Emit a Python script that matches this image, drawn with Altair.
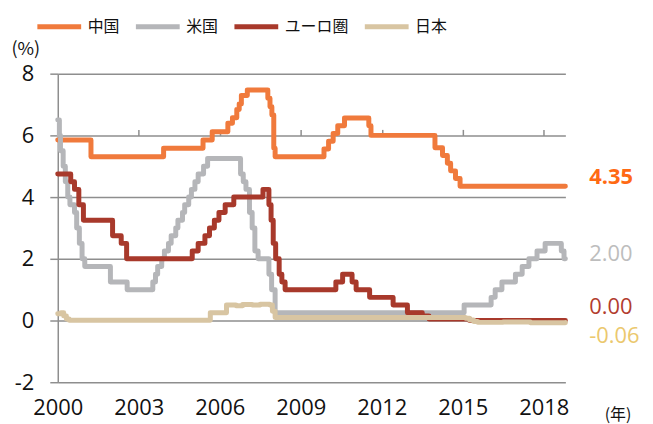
import altair as alt
import pandas as pd

# ---------------- data ----------------
series_names = ["中国", "米国", "ユーロ圏", "日本"]

china_t = [2000.0, 2001.23, 2003.92, 2005.38, 2005.72, 2006.3, 2006.47, 2006.63, 2006.72,
           2006.8, 2007.02, 2007.78, 2007.86, 2007.93, 2008.0, 2008.05, 2009.86, 2010.03,
           2010.2, 2010.37, 2010.62, 2011.52, 2011.6, 2013.97, 2014.25, 2014.43, 2014.55,
           2014.73, 2014.9, 2018.8]
china_v = [5.85, 5.31, 5.58, 5.85, 6.12, 6.39, 6.57, 6.84, 7.02,
           7.29, 7.47, 7.20, 6.93, 6.66, 5.58, 5.31, 5.56, 5.81,
           6.06, 6.31, 6.56, 6.31, 6.00, 5.60, 5.35, 5.10, 4.85,
           4.60, 4.35, 4.35]

us_t = [2000.0, 2000.06, 2000.1, 2000.2, 2000.28, 2000.37, 2000.45, 2000.62, 2000.7,
        2000.8, 2000.9, 2001.0, 2001.95, 2002.57, 2003.52, 2003.62, 2003.7, 2003.85,
        2003.95, 2004.1, 2004.2, 2004.37, 2004.45, 2004.62, 2004.7, 2004.85, 2004.95,
        2005.08, 2005.2, 2005.4, 2005.55, 2006.77, 2006.87, 2006.97, 2007.1, 2007.2,
        2007.3, 2007.42, 2007.82, 2007.92, 2008.05, 2015.05, 2016.05, 2016.2, 2016.45,
        2016.95, 2017.2, 2017.45, 2017.75, 2018.05, 2018.65, 2018.75, 2018.8]
us_v = [6.5, 6.0, 5.5, 5.0, 4.5, 4.0, 3.75, 3.5, 3.0,
        2.5, 2.0, 1.75, 1.25, 1.0, 1.25, 1.5, 1.75, 2.0,
        2.25, 2.5, 2.75, 3.0, 3.25, 3.5, 3.75, 4.0, 4.25,
        4.5, 4.75, 5.0, 5.25, 4.75, 4.5, 4.25, 3.5, 3.0,
        2.25, 2.0, 1.5, 1.0, 0.25, 0.5, 0.75, 1.0, 1.25,
        1.5, 1.75, 2.0, 2.25, 2.5, 2.25, 2.0, 2.0]

eu_t = [2000.0, 2000.48, 2000.62, 2000.78, 2000.95, 2002.03, 2002.35, 2002.55, 2004.98,
        2005.2, 2005.45, 2005.62, 2005.8, 2005.97, 2006.2, 2006.52, 2007.6, 2007.82,
        2007.9, 2007.98, 2008.07, 2008.2, 2008.3, 2008.42, 2010.3, 2010.55, 2010.9,
        2011.05, 2011.55, 2012.42, 2012.95, 2013.5, 2013.75, 2015.25, 2018.8]
eu_v = [4.75, 4.5, 4.25, 3.75, 3.25, 2.75, 2.5, 2.0, 2.25,
        2.5, 2.75, 3.0, 3.25, 3.5, 3.75, 4.0, 4.25, 3.75,
        3.25, 2.5, 2.0, 1.5, 1.25, 1.0, 1.25, 1.5, 1.25,
        1.0, 0.75, 0.5, 0.25, 0.15, 0.05, 0.0, 0.0]

jp_t = [2000.0, 2000.12, 2000.22, 2000.32, 2000.42, 2005.55, 2005.65, 2006.25, 2006.6,
        2006.85, 2007.2, 2007.5, 2007.85, 2007.95, 2008.05, 2015.1, 2015.25, 2015.4,
        2015.55, 2016.5, 2017.5, 2018.8]
jp_v = [0.22, 0.25, 0.15, 0.05, 0.01, 0.01, 0.25, 0.5, 0.48,
        0.52, 0.5, 0.53, 0.5, 0.3, 0.1, 0.07, 0.02, -0.03,
        -0.06, -0.05, -0.07, -0.06]

end_labels = ["4.35", "2.00", "0.00", "-0.06"]
end_values = [4.35, 2.00, 0.00, -0.06]
x_ticks = [2000, 2003, 2006, 2009, 2012, 2015, 2018]
y_ticks = [-2, 0, 2, 4, 6, 8]

# ---------------- styling ----------------
line_colors = ["#F07A3C", "#B5B6B9", "#A8392B", "#D8C5A2"]
label_colors = ["#FF6A13", "#BDBDBD", "#B23C2E", "#EBC86E"]
label_weights = ["bold", "normal", "normal", "normal"]
label_dy = [-9, -5, -14, 14]
grid_gray = "#8E8E8E"
NUM_FONT = "Open Sans"
JP_FONT = "Noto Sans CJK JP"

x_scale = alt.Scale(domain=[2000, 2018.8], nice=False, zero=False)
y_scale = alt.Scale(domain=[-2, 8], nice=False)
color_scale = alt.Scale(domain=series_names, range=line_colors)

y_axis = alt.Axis(values=y_ticks, grid=True, gridColor=grid_gray, gridWidth=1.5,
                  domainColor=grid_gray, domainWidth=1.5, tickColor=grid_gray, tickWidth=1.5,
                  tickSize=8, labelPadding=16, labelFont=NUM_FONT, labelFontSize=22,
                  labelExpr="toString(datum.value)",
                  labelColor="#111111", title="(%)", titleAngle=0, titleAlign="left",
                  titleBaseline="middle", titleX=-47, titleY=-24, titleFont=JP_FONT,
                  titleFontSize=18, titleFontWeight="normal", titleColor="#111111")

x_axis_labels = alt.Axis(values=x_ticks, format="d", grid=False, domain=False, ticks=False,
                         labelPadding=15, labelFont=NUM_FONT, labelFontSize=22,
                         labelColor="#111111", labelFlush=False,
                         title="(年)", titleAlign="left", titleBaseline="middle",
                         titleX=549, titleY=32, titleFont=JP_FONT, titleFontSize=16,
                         titleFontWeight="normal", titleColor="#111111")

x_axis_zero_ticks = alt.Axis(values=x_ticks[1:], grid=False, domain=False, labels=False,
                             ticks=True, tickSize=6, tickColor=grid_gray, tickWidth=1.5,
                             offset=-62, title=None)

legend = alt.Legend(orient="none", legendX=-23, legendY=-72, direction="horizontal",
                    title=None, symbolType="stroke", symbolSize=1936, symbolStrokeWidth=5,
                    labelFont=JP_FONT, labelFontSize=16, labelColor="#111111",
                    labelOffset=4, columnPadding=5, padding=0)

series_data = [(china_t, china_v), (us_t, us_v), (eu_t, eu_v), (jp_t, jp_v)]
x_axes = [x_axis_labels, x_axis_zero_ticks, None, None]

layers = []
for name, (t, v), xa in zip(series_names, series_data, x_axes):
    df = pd.DataFrame({"year": t, "rate": v, "series": name})
    layers.append(
        alt.Chart(df).mark_line(interpolate="step-after", strokeWidth=5,
                                strokeCap="round", strokeJoin="round", clip=False)
        .encode(
            x=alt.X("year:Q", scale=x_scale, axis=xa),
            y=alt.Y("rate:Q", scale=y_scale, axis=y_axis),
            color=alt.Color("series:N", scale=color_scale, legend=legend),
        )
    )

for lab, val, col, wt, dy in zip(end_labels, end_values, label_colors, label_weights, label_dy):
    df = pd.DataFrame({"year": [x_scale.domain[1]], "rate": [val], "label": [lab]})
    layers.append(
        alt.Chart(df).mark_text(align="left", baseline="middle", dx=24, dy=dy,
                                font=NUM_FONT, fontSize=22, fontWeight=wt, color=col)
        .encode(
            x=alt.X("year:Q", scale=x_scale, axis=None),
            y=alt.Y("rate:Q", scale=y_scale, axis=y_axis),
            text="label:N",
        )
    )

chart = (
    alt.layer(*layers)
    .resolve_axis(x="independent")
    .properties(width=510, height=310, autosize=alt.AutoSizeParams(type="none"),
                padding={"left": 50, "top": 65, "right": 80, "bottom": 43})
    .configure_view(stroke=None)
)

chart.save("out.html", embed_options={"renderer": "svg", "actions": False})
